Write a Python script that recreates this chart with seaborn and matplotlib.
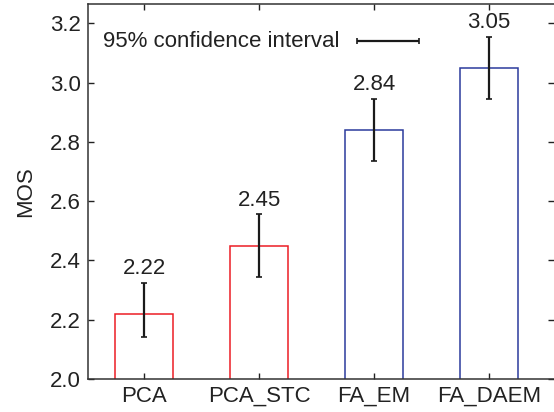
import matplotlib
matplotlib.use("Agg")
import matplotlib.pyplot as plt
import seaborn as sns
import pandas as pd
import numpy as np

methods = ["PCA", "PCA_STC", "FA_EM", "FA_DAEM"]
mos = [2.22, 2.45, 2.84, 3.05]
ci_low = [0.08, 0.105, 0.105, 0.105]
ci_high = [0.105, 0.105, 0.105, 0.105]
edge_colors = ["#ec1c24", "#ec1c24", "#2b3a9c", "#2b3a9c"]
value_labels = ["2.22", "2.45", "2.84", "3.05"]
yticks = [2.0, 2.2, 2.4, 2.6, 2.8, 3.0, 3.2]

sns.set_theme(style="ticks")
plt.rcParams["font.family"] = ["Liberation Sans", "DejaVu Sans"]

df = pd.DataFrame({"method": methods, "mos": mos})

fig = plt.figure(figsize=(5.54, 4.12), dpi=100)
ax = fig.add_axes([88 / 554, 1 - 379 / 412, 466 / 554, 375 / 412])

sns.barplot(data=df, x="method", y="mos", hue="method", palette=edge_colors,
            fill=False, width=0.5, linewidth=1.1, errorbar=None, legend=False, ax=ax)

xs = np.arange(len(methods))
ax.errorbar(xs, mos, yerr=[ci_low, ci_high], fmt="none", ecolor="#1a1a1a", elinewidth=1.6,
            capsize=2, capthick=1.2)
for x, m, e, lab in zip(xs, mos, ci_high, value_labels):
    ax.text(x, m + e + 0.012, lab, ha="center", va="bottom", fontsize=16, color="#222222")

ax.set_ylim(2.0, 3.265)
ax.set_xlim(-0.487, 3.565)
ax.set_yticks(yticks)
ax.set_yticklabels([f"{t:.1f}" for t in yticks])
ax.set_xlabel("")
ax.set_ylabel("MOS", fontsize=16, color="#222222", labelpad=10)
ax.tick_params(axis="both", labelsize=16, colors="#222222", direction="in",
               length=4, width=1, top=True, right=True)
ax.tick_params(axis="x", pad=5)
ax.tick_params(axis="y", pad=5)
for s in ["left", "bottom", "top"]:
    ax.spines[s].set_color("#333333")
    ax.spines[s].set_linewidth(1.1)
ax.spines["right"].set_visible(False)

# confidence interval legend
ax.text(0.032, 0.901, "95% confidence interval", transform=ax.transAxes,
        ha="left", va="center", fontsize=16, color="#222222")
ax.errorbar([0.577 + (0.710 - 0.577) / 2], [0.901], xerr=[(0.710 - 0.577) / 2],
            transform=ax.transAxes, fmt="none", ecolor="#1a1a1a", elinewidth=1.6,
            capsize=2, capthick=1.2, clip_on=False)

fig.savefig("out.png", dpi=100)
